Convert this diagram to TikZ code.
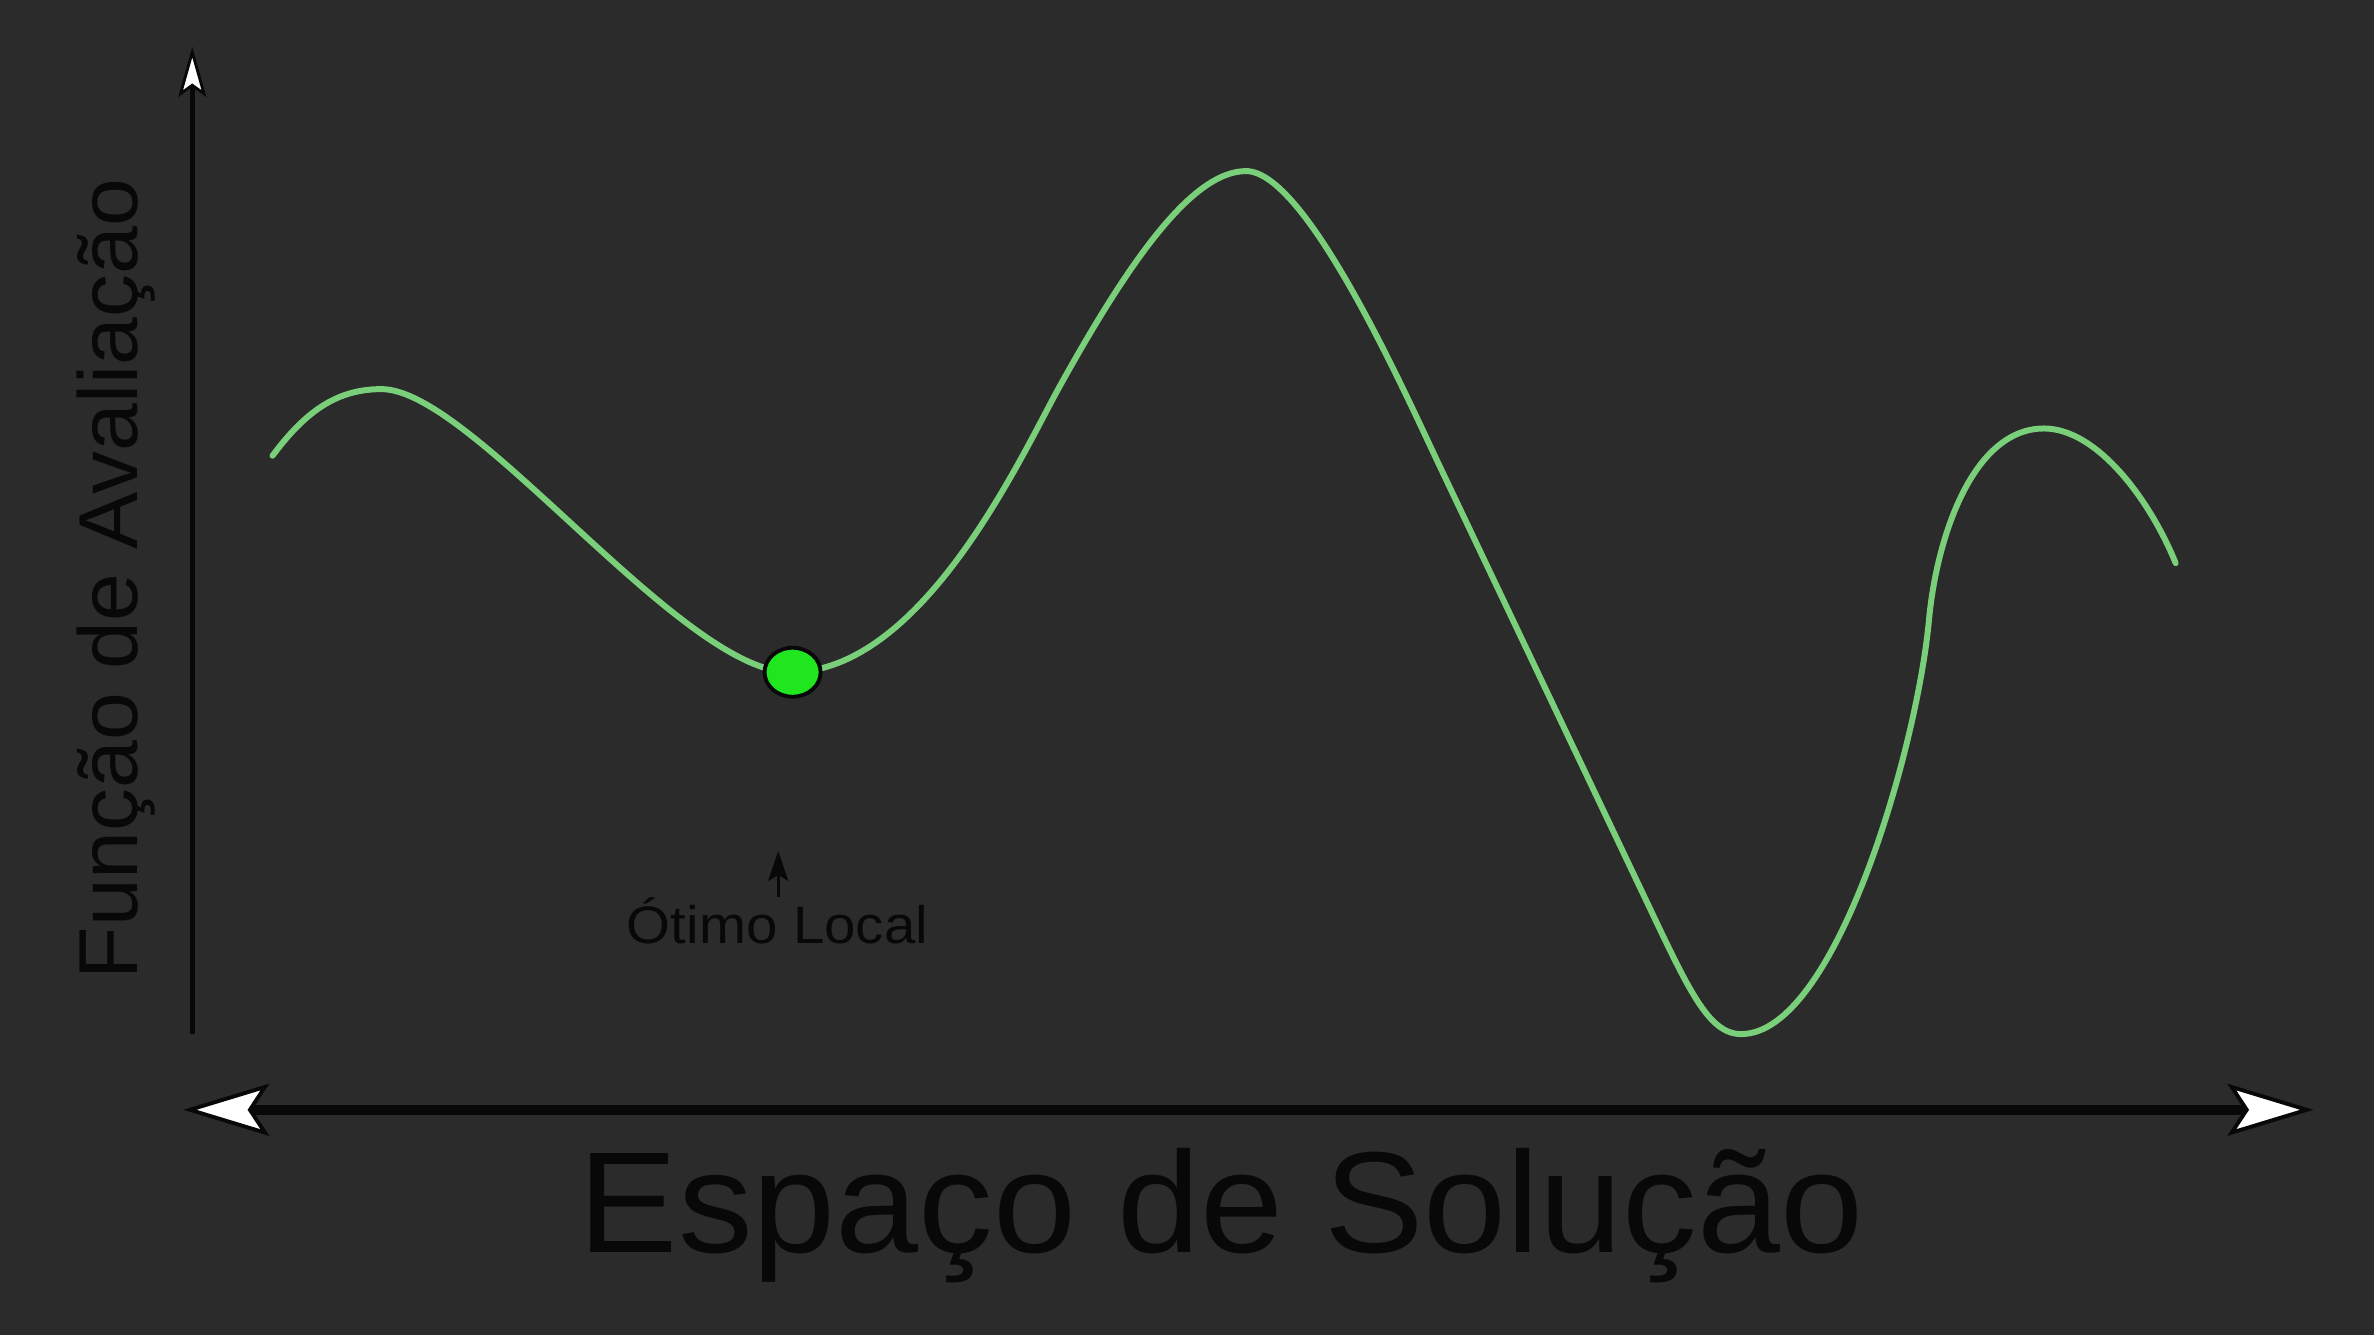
\documentclass[tikz,border=0pt]{standalone}
\usepackage{fontspec}
\usepackage{graphicx}
\setmainfont{Liberation Sans}
\usetikzlibrary{arrows.meta,shapes.geometric}
\definecolor{bg}{HTML}{2B2B2B}
\definecolor{curvegreen}{HTML}{7ACF7A}
\definecolor{dotgreen}{HTML}{1FE61F}
\definecolor{ink}{HTML}{080808}
\tikzset{
  bighead/.tip={Stealth[length=0.86cm,width=0.52cm,inset=0.17cm,fill=white,line width=1.1pt]},
  smallhead/.tip={Stealth[length=0.5cm,width=0.28cm,inset=0.1cm,fill=white,line width=0.8pt]},
  pointerhead/.tip={Stealth[length=0.3cm,width=0.2cm,inset=0.06cm]}
}
\begin{document}
\begin{tikzpicture}[x=0.01514cm,y=-0.01514cm,
  axisline/.style={draw=ink},
  label/.style={text=ink,inner sep=0pt},
  fitness/.style={draw=curvegreen,line width=1.7pt,line cap=round,line join=round},
  optdot/.style={ellipse,draw=ink,fill=dotgreen,line width=1.1pt,minimum width=0.56cm,minimum height=0.49cm,inner sep=0pt}]
\fill[bg] (0,0) rectangle (1568,882);
\useasboundingbox (0,0) rectangle (1568,882);

% fitness curve
\draw[fitness] (180,301) .. controls (203,270) and (224,257) .. (252,257)
 .. controls (312,257) and (450,444) .. (522,444)
 .. controls (610,444) and (675,300) .. (700,255)
 .. controls (745,174) and (787,113) .. (823,113)
 .. controls (862,113) and (925,253) .. (950,306)
 -- (1085,590)
 .. controls (1115,653) and (1128,683) .. (1150,683)
 .. controls (1212,683) and (1266,495) .. (1274,410)
 .. controls (1279,355) and (1303,283) .. (1350,283)
 .. controls (1385,283) and (1420,330) .. (1437,372);

% local optimum
\node[optdot] (opt) at (523.5,444) {};

% axes
\coordinate (ybot) at (127,683);
\coordinate (ytop) at (127,31);
\draw[axisline,line width=1.4pt,-{smallhead}] (ybot) -- (ytop);
\coordinate (xleft) at (121,733);
\coordinate (xright) at (1528,733);
\draw[axisline,line width=2.8pt,{bighead}-{bighead}] (xleft) -- (xright);

% labels
\node[label,font=\fontsize{40.9}{46}\selectfont,anchor=base] (xlab) at (806.5,827) {\scalebox{1.037}[1]{Espaço de Solução}};
\node[label,font=\fontsize{23.8}{27}\selectfont,rotate=90,anchor=base] (ylab) at (90.5,382.5) {\scalebox{1.026}[1]{Função de Avaliação}};
\node[label,font=\fontsize{15}{18}\selectfont,anchor=base] (olab) at (513.5,623) {\scalebox{1.07}[1]{Ótimo Local}};
\coordinate (otip) at (514,562);
\draw[draw=ink,line width=0.85pt,-{pointerhead}] (olab.north -| otip) -- (otip);
\end{tikzpicture}
\end{document}
